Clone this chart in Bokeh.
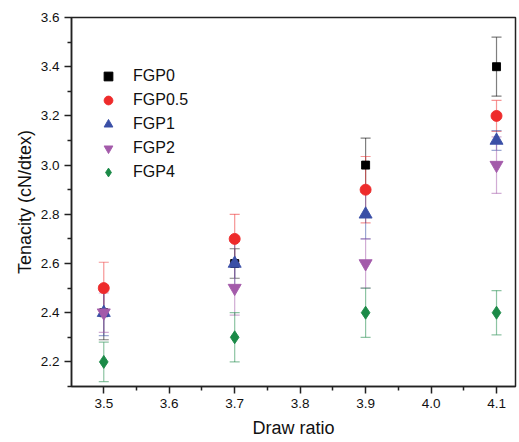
from bokeh.plotting import figure
from bokeh.models import (ColumnDataSource, Whisker, TeeHead, Legend, LegendItem,
                          FixedTicker, PrintfTickFormatter, Range1d)
from bokeh.embed import file_html
from bokeh.resources import INLINE

# ---- data ----
draw_ratio = [3.5, 3.7, 3.9, 4.1]

series_names = ["FGP0", "FGP0.5", "FGP1", "FGP2", "FGP4"]

fgp0 = [2.4, 2.6, 3.0, 3.4]
fgp0_err = [0.11, 0.06, 0.11, 0.12]

fgp05 = [2.5, 2.7, 2.9, 3.2]
fgp05_err = [0.105, 0.10, 0.135, 0.063]

fgp1 = [2.4, 2.6, 2.8, 3.1]
fgp1_err = [0.093, 0.09, 0.10, 0.04]

fgp2 = [2.4, 2.5, 2.6, 3.0]
fgp2_err = [0.08, 0.11, 0.10, 0.115]

fgp4 = [2.2, 2.3, 2.4, 2.4]
fgp4_err = [0.08, 0.10, 0.10, 0.09]

x_ticks = [3.5, 3.6, 3.7, 3.8, 3.9, 4.0, 4.1]
y_ticks = [2.2, 2.4, 2.6, 2.8, 3.0, 3.2, 3.4, 3.6]

values = [fgp0, fgp05, fgp1, fgp2, fgp4]
errors = [fgp0_err, fgp05_err, fgp1_err, fgp2_err, fgp4_err]

# ---- styles ----
colors = ["#000000", "#ee2b2b", "#3a4fa6", "#a35aaa", "#1b8a47"]
markers = ["square", "circle", "triangle", "inverted_triangle", "diamond"]
sizes = [8, 11, 13, 13, 13]
FONT = "Liberation Sans"

p = figure(width=519, height=442,
           x_range=Range1d(3.4507, 4.129), y_range=Range1d(2.1, 3.6),
           output_backend="svg", toolbar_location=None,
           min_border_left=71, min_border_right=4, min_border_top=17, min_border_bottom=56)

p.xgrid.visible = False
p.ygrid.visible = False
p.outline_line_color = "#222222"
p.outline_line_width = 1.5
p.background_fill_color = "white"
p.border_fill_color = "white"

# markers
renderers = []
for vals, col, mk, sz in zip(values, colors, markers, sizes):
    src = ColumnDataSource(dict(x=draw_ratio, y=vals))
    r = p.scatter("x", "y", source=src, marker=mk, size=sz,
                  fill_color=col, line_color=col, line_alpha=0.9)
    renderers.append(r)

# error bars (on top of markers, semi-transparent)
for vals, errs, col in zip(values, errors, colors):
    src = ColumnDataSource(dict(x=draw_ratio,
                                upper=[v + e for v, e in zip(vals, errs)],
                                lower=[v - e for v, e in zip(vals, errs)]))
    w = Whisker(base="x", upper="upper", lower="lower", source=src,
                line_color=col, line_alpha=0.5, line_width=1.2,
                upper_head=TeeHead(size=10, line_color=col, line_alpha=0.5, line_width=1.2),
                lower_head=TeeHead(size=10, line_color=col, line_alpha=0.5, line_width=1.2))
    p.add_layout(w)

# axes
minor_x = [round(t + 0.05, 2) for t in [3.4] + x_ticks]
minor_y = [round(t - 0.1, 2) for t in y_ticks]
p.xaxis.ticker = FixedTicker(ticks=x_ticks, minor_ticks=minor_x)
p.yaxis.ticker = FixedTicker(ticks=y_ticks, minor_ticks=minor_y)
p.xaxis.formatter = PrintfTickFormatter(format="%.1f")
p.yaxis.formatter = PrintfTickFormatter(format="%.1f")

for ax in (p.xaxis[0], p.yaxis[0]):
    ax.axis_line_color = "#222222"
    ax.axis_line_width = 1.5
    ax.major_tick_line_color = "#222222"
    ax.minor_tick_line_color = "#222222"
    ax.major_tick_line_width = 1.5
    ax.minor_tick_line_width = 1.5
    ax.major_tick_in = 0
    ax.major_tick_out = 7
    ax.minor_tick_in = 0
    ax.minor_tick_out = 4
    ax.major_label_text_font = FONT
    ax.major_label_text_font_size = "13.5px"
    ax.major_label_text_color = "#111111"
    ax.axis_label_text_font = FONT
    ax.axis_label_text_font_size = "18px"
    ax.axis_label_text_font_style = "normal"
    ax.axis_label_text_color = "#111111"

p.xaxis.axis_label = "Draw ratio"
p.yaxis.axis_label = "Tenacity (cN/dtex)"
p.xaxis.major_label_standoff = 5
p.yaxis.major_label_standoff = 5
p.xaxis.axis_label_standoff = 7
p.yaxis.axis_label_standoff = 3

# legend
items = [LegendItem(label=n, renderers=[r]) for n, r in zip(series_names, renderers)]
legend = Legend(items=items, location=(26, 202),
                glyph_width=22, glyph_height=24, label_height=24,
                label_standoff=14, spacing=-3, padding=0, margin=0,
                border_line_color=None, background_fill_alpha=0,
                label_text_font=FONT, label_text_font_size="16px",
                label_text_color="#111111")
p.add_layout(legend)

open("out.html", "w").write(file_html(p, INLINE))
